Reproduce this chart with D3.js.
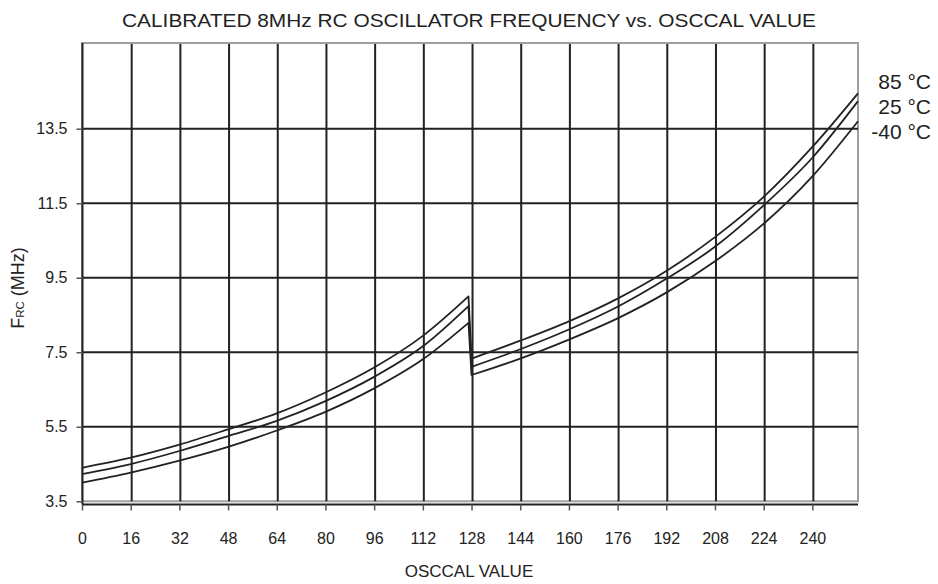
<!DOCTYPE html>
<html>
<head>
<meta charset="utf-8">
<script src="https://cdn.jsdelivr.net/npm/d3@7"></script>
<style>
  body { margin: 0; background: #fff; }
  svg { font-family: "Liberation Sans", Arial, sans-serif; }
</style>
</head>
<body>
<svg id="chart" width="938" height="584"></svg>
<script>
// OSCCAL sample points (drop between 127 and 128)
var osccal = [0, 16, 32, 48, 64, 80, 96, 112, 127, 128, 144, 160, 176, 192, 208, 224, 240, 255];
var f85 = [4.40, 4.67, 5.02, 5.43, 5.86, 6.42, 7.09, 7.94, 9.00, 7.33, 7.81, 8.33, 8.94, 9.68, 10.59, 11.67, 13.01, 14.45];
var f25 = [4.23, 4.50, 4.85, 5.25, 5.66, 6.19, 6.84, 7.66, 8.74, 7.11, 7.58, 8.11, 8.72, 9.47, 10.33, 11.44, 12.72, 14.24];
var fm40 = [4.00, 4.27, 4.59, 4.96, 5.40, 5.90, 6.53, 7.31, 8.29, 6.89, 7.33, 7.84, 8.41, 9.10, 9.94, 10.95, 12.22, 13.70];
var seriesNames = ['85 °C', '25 °C', '-40 °C'];
var xTicks = [0, 16, 32, 48, 64, 80, 96, 112, 128, 144, 160, 176, 192, 208, 224, 240];
var yTicks = [3.5, 5.5, 7.5, 9.5, 11.5, 13.5];

var svg = d3.select('#chart');
var pLeft = 82, pRight = 858, pTop = 43, pBottom = 501.3;

var x = d3.scaleLinear().domain([0, 255]).range([pLeft, pRight]);
var y = d3.scaleLinear().domain([3.5, 15.8]).range([pBottom, pTop]);

// title
svg.append('text')
    .attr('x', 469).attr('y', 27)
    .attr('text-anchor', 'middle')
    .attr('font-size', 18.5)
    .attr('textLength', 694)
    .attr('lengthAdjust', 'spacingAndGlyphs')
    .attr('fill', '#222')
    .text('CALIBRATED 8MHz RC OSCILLATOR FREQUENCY vs. OSCCAL VALUE');

// plot frame
svg.append('rect')
    .attr('x', pLeft).attr('y', pTop)
    .attr('width', pRight - pLeft).attr('height', pBottom - pTop)
    .attr('fill', 'none')
    .attr('stroke', '#a0a0a0')
    .attr('stroke-width', 2);

// grid
svg.append('g').selectAll('line')
    .data(xTicks.slice(1))
    .enter().append('line')
    .attr('x1', d => x(d) + 1).attr('x2', d => x(d) + 1)
    .attr('y1', pTop + 1).attr('y2', pBottom)
    .attr('stroke', '#222').attr('stroke-width', 2);

svg.append('g').selectAll('line')
    .data(yTicks.slice(1))
    .enter().append('line')
    .attr('x1', pLeft).attr('x2', pRight)
    .attr('y1', d => y(d)).attr('y2', d => y(d))
    .attr('stroke', '#222').attr('stroke-width', 2);

// axes
var xAxis = svg.append('g')
    .attr('transform', 'translate(0,' + (pBottom + 3.2) + ')')
    .call(d3.axisBottom(x).tickValues(xTicks).tickSize(6).tickPadding(22).tickSizeOuter(0));
var yAxis = svg.append('g')
    .attr('transform', 'translate(' + (pLeft + 0.5) + ',0)')
    .call(d3.axisLeft(y).tickValues(yTicks).tickFormat(d3.format('.1f')).tickSize(6).tickPadding(9).tickSizeOuter(0));

[xAxis, yAxis].forEach(function(a) {
    a.select('.domain').attr('stroke', '#222').attr('stroke-width', 2);
    a.selectAll('.tick line').attr('stroke', '#555').attr('stroke-width', 1.5);
    a.selectAll('.tick text')
        .attr('font-family', '"Liberation Sans", Arial, sans-serif')
        .attr('font-size', 16)
        .attr('fill', '#222');
});
xAxis.select('.domain').attr('d', 'M' + pLeft + ',0H' + pRight);
yAxis.select('.domain').attr('d', 'M0,' + pTop + 'V' + (pBottom + 3.2));

// curves: two smooth branches joined by the drop at 127 -> 128
var line = d3.line()
    .x(d => x(d[0]))
    .y(d => y(d[1]))
    .curve(d3.curveMonotoneX);

function branchPath(vals) {
    var pts = osccal.map((o, i) => [o, vals[i]]);
    var lo = pts.filter(p => p[0] <= 127);
    var hi = pts.filter(p => p[0] >= 128);
    return line(lo) + line(hi).replace(/^M/, 'L');
}

svg.append('g').selectAll('path')
    .data([f85, f25, fm40])
    .enter().append('path')
    .attr('d', branchPath)
    .attr('fill', 'none')
    .attr('stroke', '#222')
    .attr('stroke-width', 1.8)
    .attr('stroke-linejoin', 'round');

// legend labels
svg.append('g').selectAll('text')
    .data(seriesNames)
    .enter().append('text')
    .attr('x', 931)
    .attr('y', (d, i) => 89 + i * 25)
    .attr('text-anchor', 'end')
    .attr('font-size', 21)
    .attr('fill', '#222')
    .text(d => d);

// axis titles
svg.append('text')
    .attr('x', 469).attr('y', 577)
    .attr('text-anchor', 'middle')
    .attr('font-size', 17)
    .attr('fill', '#222')
    .text('OSCCAL VALUE');

var yl = svg.append('text')
    .attr('transform', 'translate(24,288) rotate(-90)')
    .attr('text-anchor', 'middle')
    .attr('font-size', 18)
    .attr('fill', '#222');
yl.append('tspan').text('F');
yl.append('tspan').attr('font-size', 11.5).text('RC');
yl.append('tspan').text(' (MHz)');
</script>
</body>
</html>
